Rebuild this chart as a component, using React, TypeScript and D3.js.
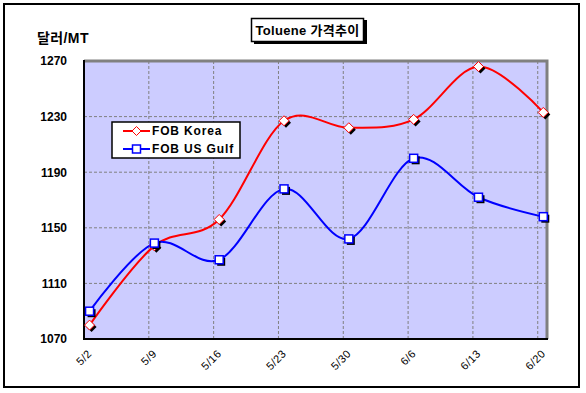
import React from "react";
import * as d3 from "d3";

const categories = ["5/2", "5/9", "5/16", "5/23", "5/30", "6/6", "6/13", "6/20"];
const fobKorea = [1080, 1137, 1156, 1227, 1222, 1228, 1266, 1233];
const fobUsGulf = [1090, 1139, 1127, 1178, 1142, 1200, 1172, 1158];
const yTicks = [1070, 1110, 1150, 1190, 1230, 1270];
const seriesNames = ["FOB Korea", "FOB US Gulf"];

const W = 586, H = 393;
const plot = { left: 84, right: 547, top: 61, bottom: 339 };
const FONT = "'Liberation Sans', Arial, 'Noto Sans CJK KR', sans-serif";

export default function App() {
  // date axis: days from 5/2, weekly ticks, points plotted slightly after each tick
  const x = d3.scaleLinear().domain([0, 50]).range([plot.left, plot.right]);
  const y = d3.scaleLinear().domain([1070, 1270]).range([plot.bottom, plot.top]);
  const tickDay = (i: number) => i * 7;
  const pointDay = (i: number) => i * 7 + 0.6;

  const line = d3
    .line<number>()
    .x((_, i) => x(pointDay(i)))
    .y((d) => y(d))
    .curve(d3.curveCatmullRom.alpha(0));

  const diamond = (cx: number, cy: number, r = 5) =>
    `M${cx},${cy - r}L${cx + r},${cy}L${cx},${cy + r}L${cx - r},${cy}Z`;

  const lg = { x: 112, y: 122, w: 128, h: 36 };

  return (
    <div style={{ position: "absolute", left: 0, top: 0 }}>
      <svg width={W} height={H} style={{ display: "block", fontFamily: FONT }}>
        <rect x={0} y={0} width={W} height={H} fill="#fff" />
        <rect x={4} y={4} width={575} height={383} fill="#fff" stroke="#000" strokeWidth={2} />

        {/* plot area */}
        <rect
          x={plot.left}
          y={plot.top}
          width={plot.right - plot.left}
          height={plot.bottom - plot.top}
          fill="#CCCCFF"
        />
        {/* horizontal grid */}
        {yTicks.slice(1, -1).map((t) => (
          <line
            key={"h" + t}
            x1={plot.left}
            x2={plot.right}
            y1={y(t)}
            y2={y(t)}
            stroke="#808080"
            strokeWidth={1}
            strokeDasharray="3,2"
          />
        ))}
        {/* vertical grid */}
        {categories.slice(1).map((c, i) => (
          <line
            key={"v" + c}
            x1={x(tickDay(i + 1))}
            x2={x(tickDay(i + 1))}
            y1={plot.top}
            y2={plot.bottom}
            stroke="#808080"
            strokeWidth={1}
            strokeDasharray="3,2"
          />
        ))}
        {/* gray border top/right */}
        <path
          d={`M${plot.left},${plot.top}H${plot.right}V${plot.bottom}`}
          fill="none"
          stroke="#808080"
          strokeWidth={3}
        />
        {/* axes */}
        <path
          d={`M${plot.left},${plot.top - 1}V${plot.bottom}H${plot.right + 1}`}
          fill="none"
          stroke="#000"
          strokeWidth={2}
        />

        {/* y tick labels */}
        {yTicks.map((t) => (
          <text
            key={"yl" + t}
            x={67}
            y={y(t)}
            dy="0.36em"
            textAnchor="end"
            fontSize={12}
            fontWeight="bold"
            fill="#000"
          >
            {t}
          </text>
        ))}
        {/* x tick labels */}
        {categories.map((c, i) => (
          <text
            key={"xl" + c}
            transform={`translate(${x(tickDay(i)) + 3},${plot.bottom + 10}) rotate(-45)`}
            textAnchor="end"
            dy="0.7em"
            fontSize={11}
            letterSpacing={0.4}
            fill="#000"
          >
            {c}
          </text>
        ))}

        {/* series lines */}
        <path d={line(fobKorea) || ""} fill="none" stroke="#FF0000" strokeWidth={2} />
        <path d={line(fobUsGulf) || ""} fill="none" stroke="#0000FF" strokeWidth={2} />

        {/* markers */}
        {fobKorea.map((v, i) => {
          const cx = x(pointDay(i)), cy = y(v);
          return (
            <g key={"k" + i}>
              <path d={diamond(cx + 2, cy + 2)} fill="#000" />
              <path d={diamond(cx, cy)} fill="#fff" stroke="#FF0000" strokeWidth={1} />
            </g>
          );
        })}
        {fobUsGulf.map((v, i) => {
          const cx = x(pointDay(i)), cy = y(v);
          return (
            <g key={"u" + i}>
              <rect x={cx - 4 + 2} y={cy - 4 + 2} width={8} height={8} fill="#000" />
              <rect x={cx - 4} y={cy - 4} width={8} height={8} fill="#fff" stroke="#0000FF" strokeWidth={1.5} />
            </g>
          );
        })}

        {/* legend */}
        <rect x={lg.x} y={lg.y} width={lg.w} height={lg.h} fill="#fff" stroke="#000" strokeWidth={1.5} />
        {seriesNames.map((n, i) => {
          const cy = lg.y + 9 + i * 18;
          const color = i === 0 ? "#FF0000" : "#0000FF";
          return (
            <g key={"lg" + n}>
              <line x1={123} x2={150} y1={cy} y2={cy} stroke={color} strokeWidth={2} />
              {i === 0 ? (
                <path d={diamond(136.5, cy, 4.5)} fill="#fff" stroke={color} strokeWidth={1} />
              ) : (
                <rect x={132.5} y={cy - 4} width={8} height={8} fill="#fff" stroke={color} strokeWidth={1.5} />
              )}
              <text
                x={152}
                y={cy}
                dy="0.36em"
                fontSize={12}
                fontWeight="bold"
                letterSpacing={0.85}
                fill="#000"
              >
                {n}
              </text>
            </g>
          );
        })}

        {/* title */}
        <rect x={254} y={20} width={113} height={24} fill="#000" />
        <rect x={251.5} y={18.5} width={112} height={23} fill="#fff" stroke="#000" strokeWidth={1.5} />
        <text x={307.5} y={30} dy="0.36em" textAnchor="middle" fontSize={13} fontWeight="bold" letterSpacing={0.3} fill="#000">
          Toluene 가격추이
        </text>

        {/* y-axis title */}
        <text x={37} y={38} dy="0.36em" fontSize={14} fontWeight="bold" letterSpacing={0.4} fill="#000">
          달러/MT
        </text>
      </svg>
    </div>
  );
}
